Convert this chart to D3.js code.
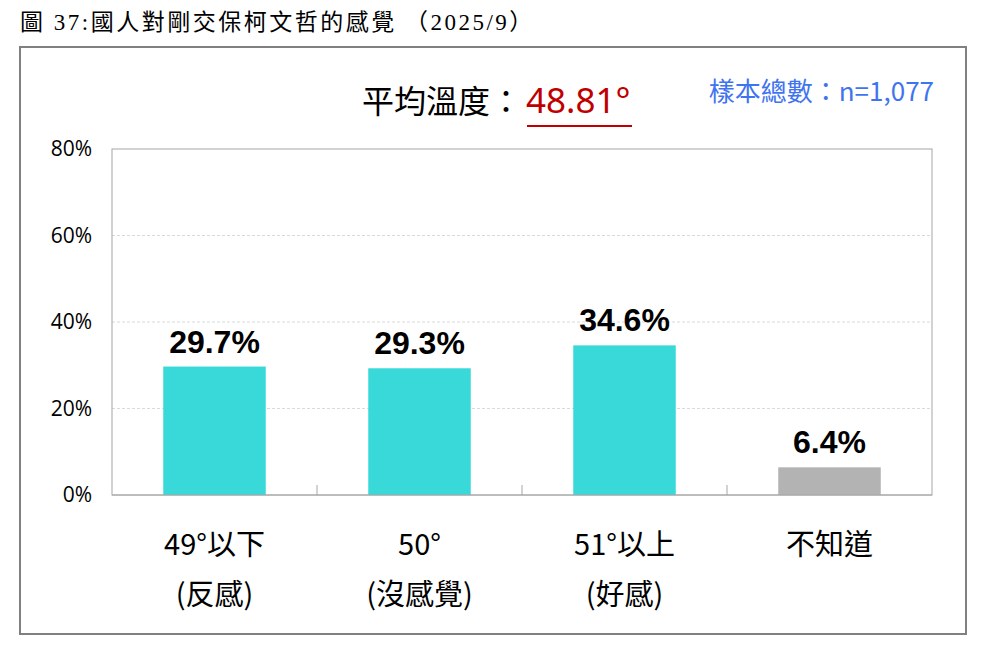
<!DOCTYPE html>
<html>
<head>
<meta charset="utf-8">
<script src="https://cdn.jsdelivr.net/npm/d3@7"></script>
<style>
  body { margin: 0; background: #fff; }
  svg { display: block; }
</style>
</head>
<body>
<div id="chart"></div>
<script>
const categories = ['49°以下', '50°', '51°以上', '不知道']
const subLabels = ['(反感)', '(沒感覺)', '(好感)', '']
const values = [29.7, 29.3, 34.6, 6.4]
const barColors = ['#3AD9D9', '#3AD9D9', '#3AD9D9', '#B3B3B3']
const yTicks = [0, 20, 40, 60, 80]

const width = 985, height = 653
const margin = {top: 149, right: 53, bottom: 158, left: 112}

const svg = d3.select('#chart').append('svg')
  .attr('width', width)
  .attr('height', height)

const narrow = "'Liberation Sans Narrow', 'Noto Sans CJK TC', sans-serif"

// title
svg.append('text')
  .attr('x', 20).attr('y', 30)
  .style('font-family', "'Liberation Serif', 'DejaVu Serif', 'Noto Sans CJK TC', serif")
  .style('font-size', '23px')
  .style('letter-spacing', '2.5px')
  .attr('fill', '#000')
  .text('圖 37:國人對剛交保柯文哲的感覺 （2025/9）')

// outer frame
svg.append('rect')
  .attr('x', 20).attr('y', 47)
  .attr('width', 946).attr('height', 587)
  .attr('fill', 'none')
  .attr('stroke', '#808080')
  .attr('stroke-width', 2)

const x = d3.scaleBand()
  .domain(categories)
  .range([margin.left, width - margin.right])
  .paddingInner(0.5)
  .paddingOuter(0.25)

const band = d3.scaleBand()
  .domain(categories)
  .range([margin.left, width - margin.right])

const y = d3.scaleLinear()
  .domain([0, 80])
  .range([height - margin.bottom, margin.top])

// gridlines
svg.append('g')
  .selectAll('line')
  .data(yTicks.filter(d => d > 0 && d < 80))
  .enter().append('line')
  .attr('x1', margin.left).attr('x2', width - margin.right)
  .attr('y1', d => y(d)).attr('y2', d => y(d))
  .attr('stroke', '#D9D9D9')
  .attr('stroke-dasharray', '3,2')

// plot box
svg.append('rect')
  .attr('x', margin.left).attr('y', margin.top)
  .attr('width', width - margin.right - margin.left)
  .attr('height', height - margin.bottom - margin.top)
  .attr('fill', 'none')
  .attr('stroke', '#A6A6A6')
  .attr('stroke-width', 1)

// y axis
const yAxis = svg.append('g')
  .attr('transform', `translate(${margin.left},0)`)
  .call(d3.axisLeft(y).tickValues(yTicks).tickFormat(d => d + '%').tickSize(0).tickPadding(20))
yAxis.select('.domain').remove()
yAxis.selectAll('text')
  .style('font-family', "'Open Sans', 'Noto Sans', sans-serif")
  .style('font-size', '21px')
  .attr('fill', '#000')

// category separators on the baseline
svg.append('g')
  .selectAll('line')
  .data(categories.slice(1))
  .enter().append('line')
  .attr('x1', d => band(d)).attr('x2', d => band(d))
  .attr('y1', y(0)).attr('y2', y(0) - 10)
  .attr('stroke', '#A6A6A6')

// bars
svg.append('g')
  .selectAll('rect')
  .data(values)
  .enter().append('rect')
  .attr('x', (d, i) => x(categories[i]))
  .attr('width', x.bandwidth())
  .attr('y', d => y(d))
  .attr('height', d => y(0) - y(d))
  .attr('fill', (d, i) => barColors[i])

// baseline
svg.append('line')
  .attr('x1', margin.left).attr('x2', width - margin.right)
  .attr('y1', y(0)).attr('y2', y(0))
  .attr('stroke', '#A6A6A6')

// value labels
svg.append('g')
  .selectAll('text')
  .data(values)
  .enter().append('text')
  .attr('x', (d, i) => x(categories[i]) + x.bandwidth() / 2)
  .attr('y', d => y(d) - 14)
  .attr('text-anchor', 'middle')
  .style('font-family', "Arial, 'Liberation Sans', sans-serif")
  .style('font-weight', 'bold')
  .style('font-size', '32px')
  .attr('fill', '#000')
  .text(d => d.toFixed(1) + '%')

// category labels
const catG = svg.append('g')
catG.selectAll('text.cat')
  .data(categories)
  .enter().append('text')
  .attr('class', 'cat')
  .attr('x', d => band(d) + band.bandwidth() / 2)
  .attr('y', 555)
  .attr('text-anchor', 'middle')
  .style('font-family', narrow)
  .style('font-size', '29px')
  .attr('fill', '#000')
  .text(d => d)
catG.selectAll('text.sub')
  .data(subLabels)
  .enter().append('text')
  .attr('class', 'sub')
  .attr('x', (d, i) => band(categories[i]) + band.bandwidth() / 2)
  .attr('y', 605)
  .attr('text-anchor', 'middle')
  .style('font-family', narrow)
  .style('font-size', '29px')
  .attr('fill', '#000')
  .text(d => d)

// average temperature header
svg.append('text')
  .attr('x', 362).attr('y', 113)
  .style('font-family', "'Noto Sans CJK TC', sans-serif")
  .style('font-size', '32px')
  .attr('fill', '#000')
  .text('平均溫度：')
svg.append('text')
  .attr('x', 526).attr('y', 113)
  .style('font-family', "'Noto Sans', 'Open Sans', sans-serif")
  .style('font-size', '35px')
  .attr('fill', '#C00000')
  .text('48.81°')
svg.append('line')
  .attr('x1', 527).attr('x2', 632)
  .attr('y1', 126).attr('y2', 126)
  .attr('stroke', '#C00000')
  .attr('stroke-width', 2)

// sample size
svg.append('text')
  .attr('x', 934).attr('y', 101)
  .attr('text-anchor', 'end')
  .style('font-family', "'Noto Sans CJK TC', sans-serif")
  .style('font-size', '26px')
  .attr('fill', '#3F74F0')
  .text('樣本總數：n=1,077')
</script>
</body>
</html>
